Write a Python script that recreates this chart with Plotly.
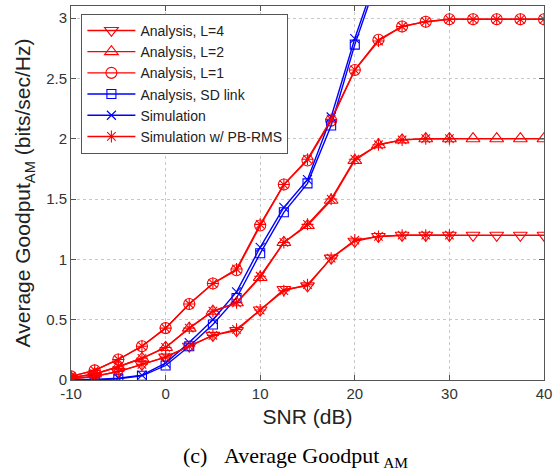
import plotly.graph_objects as go

# SNR grid (dB)
snr = [-10, -7.5, -5, -2.5, 0, 2.5, 5, 7.5, 10, 12.5, 15, 17.5, 20,
       22.5, 25, 27.5, 30, 32.5, 35, 37.5, 40]

# Analytical average goodput (bits/sec/Hz)
ana_l4 = [0.01, 0.03, 0.07, 0.13, 0.19, 0.28, 0.37, 0.41, 0.58, 0.75, 0.78,
          1.01, 1.15, 1.19, 1.20, 1.20, 1.20, 1.20, 1.20, 1.20, 1.20]
ana_l2 = [0.02, 0.05, 0.11, 0.18, 0.27, 0.43, 0.57, 0.64, 0.85, 1.14, 1.28,
          1.49, 1.82, 1.95, 1.99, 2.00, 2.00, 2.00, 2.00, 2.00, 2.00]
ana_l1 = [0.03, 0.08, 0.17, 0.28, 0.43, 0.63, 0.80, 0.91, 1.28, 1.62, 1.82,
          2.15, 2.57, 2.82, 2.93, 2.97, 2.99, 2.99, 2.99, 2.99, 2.99]

# Direct (SD) link
snr_sd = [-10, -7.5, -5, -2.5, 0, 2.5, 5, 7.5, 10, 12.5, 15, 17.5, 20, 22.5]
ana_sd = [0.00, 0.00, 0.01, 0.035, 0.12, 0.28, 0.46, 0.68, 1.05, 1.39, 1.63,
          2.11, 2.78, 3.35]
sim_sd = [0.005, 0.005, 0.015, 0.04, 0.14, 0.31, 0.50, 0.73, 1.10, 1.43, 1.66,
          2.18, 2.83, 3.40]

# Simulation with PB-RMS
snr_sim_l1 = snr
sim_l1 = [0.03, 0.08, 0.17, 0.28, 0.43, 0.63, 0.80, 0.92, 1.29, 1.62, 1.83,
          2.16, 2.57, 2.81, 2.93, 2.97, 2.99, 2.99, 2.99, 2.99, 2.99]
snr_sim = [-10, -7.5, -5, -2.5, 0, 2.5, 5, 7.5, 10, 12.5, 15, 17.5, 20,
           22.5, 25, 27.5, 30]
sim_l2 = [0.02, 0.05, 0.11, 0.18, 0.27, 0.43, 0.57, 0.64, 0.86, 1.14, 1.29,
          1.50, 1.83, 1.95, 1.99, 2.00, 2.00]
sim_l4 = [0.01, 0.03, 0.07, 0.13, 0.19, 0.28, 0.37, 0.42, 0.58, 0.74, 0.79,
          1.01, 1.16, 1.19, 1.20, 1.20, 1.20]

x_ticks = [-10, 0, 10, 20, 30, 40]
x_ticklabels = ["-10", "0", "10", "20", "30", "40"]
y_ticks = [0, 0.5, 1, 1.5, 2, 2.5, 3]
y_ticklabels = ["0", "0.5", "1", "1.5", "2", "2.5", "3"]

RED = "#ff0000"
BLUE = "#0000ff"
LW = 1.4
SANS = "Liberation Sans, Arial"

fig = go.Figure()


def add(x, y, name, color, symbol, size, show=True):
    fig.add_trace(go.Scatter(
        x=x, y=y, name=name, mode="lines+markers", showlegend=show,
        line=dict(color=color, width=LW),
        marker=dict(symbol=symbol, size=size, color=color,
                    line=dict(color=color, width=1.1)),
    ))


add(snr, ana_l4, "Analysis, L=4", RED, "triangle-down-open", 12)
add(snr, ana_l2, "Analysis, L=2", RED, "triangle-up-open", 12)
add(snr, ana_l1, "Analysis, L=1", RED, "circle-open", 11)
add(snr_sd, ana_sd, "Analysis, SD link", BLUE, "square-open", 9)
add(snr_sd, sim_sd, "Simulation", BLUE, "x-thin-open", 9)
add(snr_sim_l1, sim_l1, "Simulation w/ PB-RMS", RED, "asterisk-open", 10)
add(snr_sim, sim_l2, "Simulation w/ PB-RMS", RED, "asterisk-open", 10, False)
add(snr_sim, sim_l4, "Simulation w/ PB-RMS", RED, "asterisk-open", 10, False)

axis_common = dict(
    showline=True, linecolor="#555555", linewidth=1, mirror="ticks",
    ticks="inside", ticklen=5, tickcolor="#555555",
    showgrid=True, gridcolor="#c8c8c8", griddash="dot", gridwidth=1,
    zeroline=False,
    tickfont=dict(family=SANS, size=15, color="#333333"),
)

fig.update_xaxes(
    range=[-10, 40], tickvals=x_ticks, ticktext=x_ticklabels,
    ticklabeloverflow="allow",
    title=dict(text="SNR (dB)", standoff=8,
               font=dict(family=SANS, size=21, color="#222222")),
    **axis_common,
)
fig.update_yaxes(
    range=[0, 3.1], tickvals=y_ticks, ticktext=y_ticklabels,
    title=dict(text="Average Goodput<sub>AM</sub> (bits/sec/Hz)", standoff=9,
               font=dict(family=SANS, size=21, color="#222222")),
    **axis_common,
)

fig.add_annotation(
    x=0.475, y=-0.205, xref="paper", yref="paper", showarrow=False,
    xanchor="center", yanchor="middle",
    text="(c)&nbsp;&nbsp;&nbsp;Average Goodput<sub>&nbsp;AM</sub>",
    font=dict(family="Liberation Serif, Times New Roman", size=22,
              color="#000000"),
)

fig.update_layout(
    width=557, height=472,
    margin=dict(l=71, r=5, t=5, b=92),
    paper_bgcolor="white", plot_bgcolor="white",
    showlegend=True,
    legend=dict(
        x=0.022, y=0.979, xanchor="left", yanchor="top",
        bgcolor="white", bordercolor="#555555", borderwidth=1,
        font=dict(family=SANS, size=14, color="#222222"),
        tracegroupgap=0, itemwidth=48,
    ),
)

fig.write_html("out.html")
